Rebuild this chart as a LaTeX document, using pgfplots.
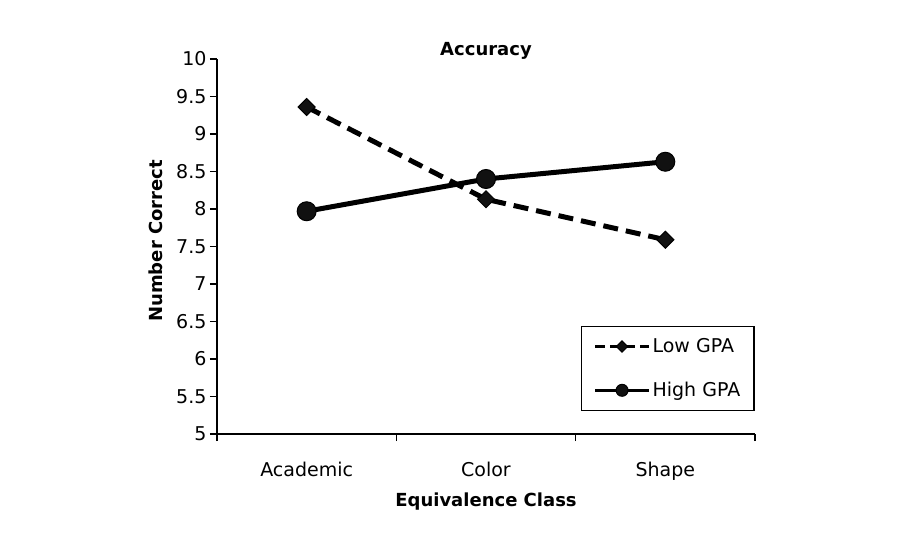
\documentclass[border=0pt]{standalone}
\usepackage{fontspec}
\setmainfont{DejaVu Sans}
\usepackage{pgfplots}
\pgfplotsset{compat=1.18}
\definecolor{markfill}{HTML}{111111}
\begin{document}
\begin{tikzpicture}[x=1pt,y=1pt]
\begin{axis}[
  at={(0,0)}, anchor=south west,
  scale only axis, width=538pt, height=375pt,
  xmin=-0.5, xmax=2.5, ymin=5, ymax=10,
  axis lines=left,
  axis line style={-, line width=1.5pt},
  every tick/.style={black, line width=1.5pt},
  tick align=outside,
  major tick length=7pt, minor tick length=7pt,
  xtick={0,1,2}, xticklabels={Academic,Color,Shape},
  major x tick style={draw=none},
  minor xtick={-0.5,0.5,1.5,2.5},
  ytick={5,5.5,6,6.5,7,7.5,8,8.5,9,9.5,10},
  yticklabels={5,5.5,6,6.5,7,7.5,8,8.5,9,9.5,10},
  tick label style={font=\fontsize{19}{23}\selectfont},
  x tick label style={inner sep=0pt, text height=13pt, yshift=-22pt},
  /pgf/number format/assume math mode=true,
  title={\bfseries Accuracy},
  title style={at={(axis description cs:0.5,0.992)}, anchor=base, font=\fontsize{18}{22}\selectfont},
  xlabel={\bfseries Equivalence Class},
  xlabel style={at={(axis description cs:0.5,-0.192)}, anchor=base, font=\fontsize{18}{22}\selectfont},
  ylabel={\bfseries Number Correct},
  ylabel style={at={(axis description cs:-0.1022,0.515)}, anchor=base, font=\fontsize{18}{22}\selectfont},
  legend image code/.code={\draw[mark repeat=2, mark phase=2, #1] plot coordinates {(0pt,0pt) (27pt,0pt) (54pt,0pt)};},
  legend style={at={(1,0.0613)}, anchor=south east, draw=black, line width=1.5pt,
    inner xsep=12pt, inner ysep=10pt, row sep=24pt,
    nodes={inner xsep=2pt},
    font=\fontsize{19}{23}\selectfont, cells={anchor=west}},
  legend cell align=left,
]
\addplot[black, line width=5pt, dash pattern=on 15pt off 8pt,
  mark=square*, mark size=6pt,
  mark options={solid, rotate=45, fill=markfill, draw=black, line width=1pt},
  legend image post style={line width=3pt, dash pattern=on 10pt off 5pt, mark size=4pt}]
  coordinates {(0,9.36) (1,8.13) (2,7.59)};
\addlegendentry{Low GPA}
\addplot[black, line width=5pt,
  mark=*, mark size=9.5pt,
  mark options={solid, fill=markfill, draw=black, line width=1pt},
  legend image post style={line width=3pt, mark size=6pt}]
  coordinates {(0,7.97) (1,8.40) (2,8.63)};
\addlegendentry{High GPA}
\end{axis}
\pgfresetboundingbox
\path (-217,-116) rectangle (683,434);
\end{tikzpicture}
\end{document}
